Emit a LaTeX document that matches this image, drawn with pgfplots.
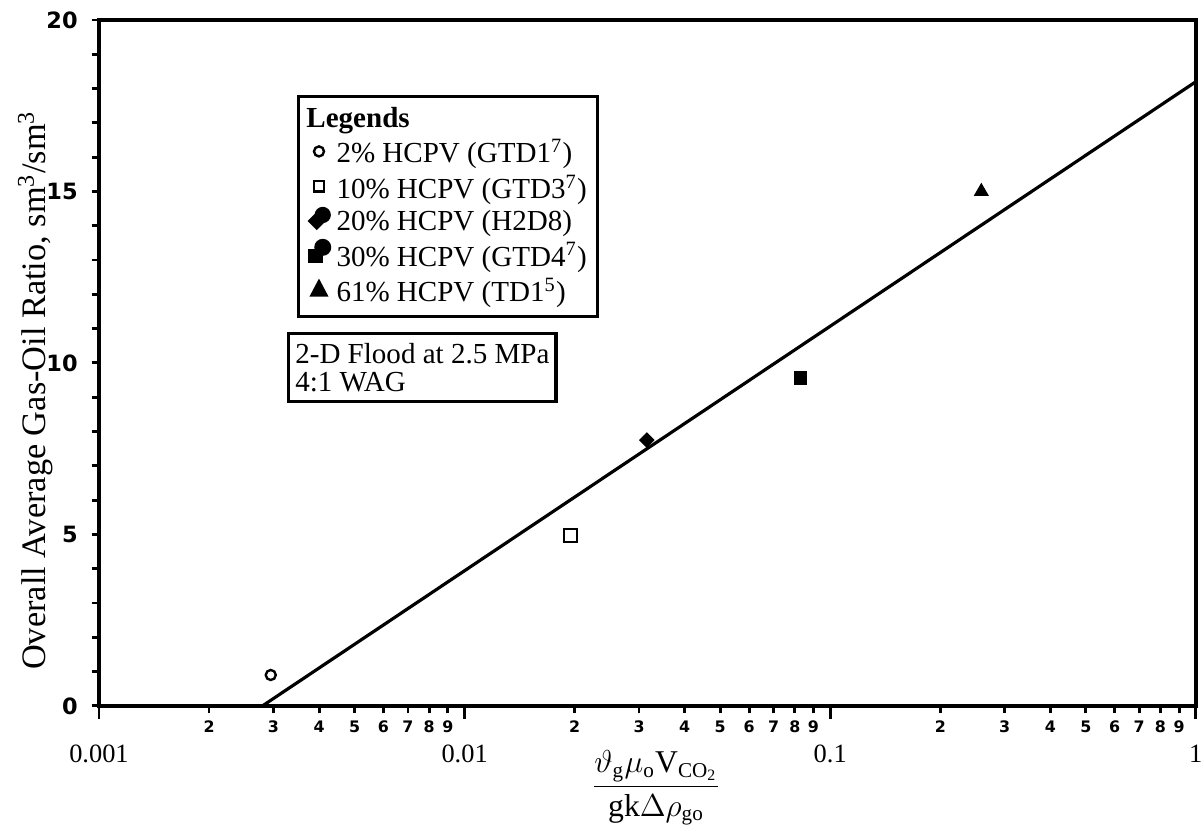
\documentclass[border=0pt]{standalone}
\usepackage{amsmath}
\usepackage{fontspec}
\setmainfont{Liberation Serif}
\usepackage{pgfplots}
\pgfplotsset{compat=1.18}
\newfontfamily\ticksans{DejaVu Sans}
\newcommand{\maj}[1]{\rmfamily\mdseries\fontsize{10}{12}\selectfont #1}
\begin{document}
\begin{tikzpicture}
\begin{axis}[
  at={(0,0)}, anchor=south west,
  scale only axis, width=14.6cm, height=9.13cm,
  xmode=log, xmin=0.001, xmax=1, ymin=0, ymax=20,
  axis line style={line width=1.4pt},
  tick style={line width=1.1pt, black},
  tick align=outside,
  xtick pos=bottom, ytick pos=left,
  xtick={0.002,0.003,0.004,0.005,0.006,0.007,0.008,0.009,
         0.02,0.03,0.04,0.05,0.06,0.07,0.08,0.09,
         0.2,0.3,0.4,0.5,0.6,0.7,0.8,0.9},
  xticklabels={2,3,4,5,6,7,8,9,2,3,4,5,6,7,8,9,2,3,4,5,6,7,8,9},
  minor xtick={},
  xticklabel style={font=\ticksans\bfseries\fontsize{6}{7}\selectfont, yshift=0.02cm},
  major tick length=0.1cm,
  minor tick length=0.1cm,
  extra x ticks={0.001,0.01,0.1,1},
  extra x tick labels={\maj{0.001},\maj{0.01},\maj{0.1},\maj{1}},
  extra x tick style={major tick length=0.17cm,
     tick label style={yshift=-0.25cm}},
  ytick={0,5,10,15,20},
  yticklabels={0,5,10,15,20},
  minor y tick num=4,
  yticklabel style={font=\ticksans\bfseries\fontsize{8.5}{10}\selectfont, xshift=-0.06cm},
  every axis y label/.style={at={(axis description cs:-0.058,0.46)}, rotate=90, anchor=center},
  ylabel={\fontsize{13}{15}\selectfont Overall Average Gas-Oil Ratio, sm\textsuperscript{3}/sm\textsuperscript{3}},
  every axis x label/.style={at={(axis description cs:0.508,-0.12)}, anchor=center},
  xlabel={\fontsize{12}{14}\selectfont $\dfrac{\vartheta_{\mathrm{g}}\mu_{\mathrm{o}}\mathrm{V}_{\mathrm{CO_2}}}{\mathrm{gk}\Delta\rho_{\mathrm{go}}}$},
  legend style={at={(0.1805,0.891)}, anchor=north west, draw=black, line width=1.3pt,
     font=\fontsize{11}{12}\selectfont, row sep=-1pt, inner sep=2pt},
  legend cell align=left,
]
% fitted line
\addplot[black, line width=1.2pt, forget plot] coordinates {(0.0028,0) (1,18.2)};
% data
\addplot[only marks, mark=*, mark size=1.9pt, mark options={fill=white, line width=0.9pt}, forget plot] coordinates {(0.00295,0.9)};
\addplot[only marks, mark=square, mark size=2.4pt, mark options={line width=0.9pt}, forget plot] coordinates {(0.0195,4.97)};
\addplot[only marks, mark=square*, mark size=1.9pt, mark options={rotate=45}, forget plot] coordinates {(0.0315,7.75)};
\addplot[only marks, mark=square*, mark size=2.4pt, forget plot] coordinates {(0.083,9.55)};
\addplot[only marks, mark=triangle*, mark size=2.9pt, forget plot] coordinates {(0.259,15.0)};
% legend
\addlegendimage{empty legend}
\addlegendentry{\hspace*{-0.4cm}\textbf{Legends}}
\addlegendimage{legend image code/.code={\draw[line width=0.9pt,fill=white] (0.2cm,0.02cm) circle (1.9pt);}}
\addlegendentry{2\% HCPV (GTD1\textsuperscript{7})}
\addlegendimage{legend image code/.code={\draw[line width=0.9pt,fill=white] (0.13cm,-0.04cm) rectangle (0.27cm,0.1cm);}}
\addlegendentry{10\% HCPV (GTD3\textsuperscript{7})}
\addlegendimage{legend image code/.code={\fill (0.08cm,0.02cm) -- (0.17cm,0.11cm) -- (0.26cm,0.02cm) -- (0.17cm,-0.07cm) -- cycle; \fill (0.25cm,0.1cm) circle (0.085cm);}}
\addlegendentry{20\% HCPV (H2D8)}
\addlegendimage{legend image code/.code={\fill (0.08cm,-0.07cm) rectangle (0.23cm,0.08cm); \fill (0.25cm,0.12cm) circle (0.09cm);}}
\addlegendentry{30\% HCPV (GTD4\textsuperscript{7})}
\addlegendimage{legend image code/.code={\fill (0.2cm,0.13cm) -- (0.11cm,-0.04cm) -- (0.29cm,-0.04cm) -- cycle;}}
\addlegendentry{61\% HCPV (TD1\textsuperscript{5})}
\node[draw, line width=1.3pt, anchor=north west, align=left, inner xsep=2.5pt, inner ysep=3.5pt,
      font=\fontsize{11}{10.8}\selectfont] at (rel axis cs:0.1714,0.545) {2-D Flood at 2.5 MPa\\4:1 WAG};
\end{axis}
\pgfresetboundingbox
\path[use as bounding box] (-1.318cm,-1.717cm) rectangle (14.682cm,9.396cm);
\end{tikzpicture}
\end{document}
